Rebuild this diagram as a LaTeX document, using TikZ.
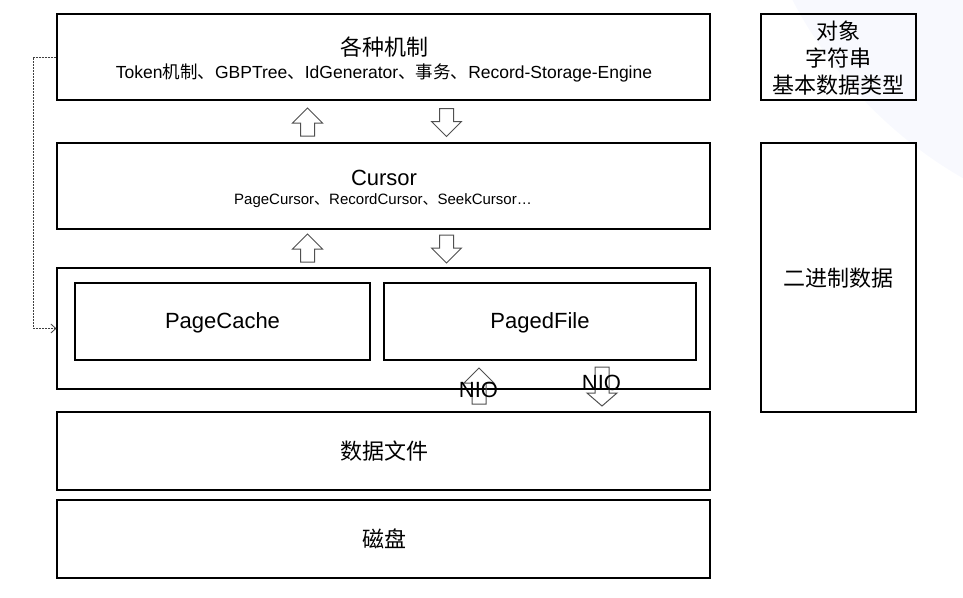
\documentclass[tikz,border=0pt]{standalone}
\usepackage{fontspec}
\setmainfont{Liberation Sans}
\newfontfamily\cjk{Noto Sans CJK SC}
\usetikzlibrary{arrows.meta}
\definecolor{arrgray}{HTML}{505050}
\definecolor{bgfaint}{HTML}{F8F9FE}
\tikzset{
  box/.style={draw=black, line width=1.1pt, minimum width=653pt, inner sep=0pt},
  rbox/.style={draw=black, line width=1.1pt, minimum width=155pt, inner sep=0pt},
  lbl/.style={inner sep=0pt, text=black, font=\fontsize{22}{27}\selectfont},
  sub/.style={inner sep=0pt, text=black, font=\fontsize{17.5}{20}\selectfont},
  subs/.style={inner sep=0pt, text=black, font=\fontsize{15}{18}\selectfont},
  blockarrow/.style={draw=arrgray, line width=1pt, fill=white, line join=miter},
  uparrow/.pic={\draw[blockarrow] (0,-14) -- (15,1) -- (7,1) -- (7,14) -- (-7,14) -- (-7,1) -- (-15,1) -- cycle;},
  downarrow/.pic={\draw[blockarrow] (0,14) -- (15,-1) -- (7,-1) -- (7,-14) -- (-7,-14) -- (-7,-1) -- (-15,-1) -- cycle;}
}
\begin{document}
\begin{tikzpicture}[x=1pt,y=-1pt]
\useasboundingbox (0,0) rectangle (963,597);
\begin{scope}
\clip (0,0) rectangle (963,597);
\fill[bgfaint] (1180,-200) circle (436);
\end{scope}
% main column boxes
\node[box, minimum height=86pt] (mech) at (383.5,57) {};
\node[box, minimum height=86pt] (cursor) at (383.5,186) {};
\node[box, minimum height=121pt] (cont) at (383.5,328.5) {};
\node[draw=black, line width=1.1pt, minimum width=295pt, minimum height=77pt] (pc) at (222.5,321.5) {};
\node[draw=black, line width=1.1pt, minimum width=312pt, minimum height=77pt] (pf) at (540,321.5) {};
\node[box, minimum height=78pt] (file) at (383.5,451) {};
\node[box, minimum height=78pt] (disk) at (383.5,539) {};
% right column
\node[rbox, minimum height=86pt] (obj) at (838.5,57) {};
\node[rbox, minimum height=269pt] (bin) at (838.5,277.5) {};
% texts
\node[lbl] (mechT) at (384,47) {\cjk 各种机制};
\node[sub] (mechS) at (384,73) {Token{\cjk 机制、}GBPTree{\cjk 、}IdGenerator{\cjk 、事务、}Record-Storage-Engine};
\node[lbl] (curT) at (384,178) {Cursor};
\node[subs] (curS) at (383,200.5) {PageCursor{\cjk 、}RecordCursor{\cjk 、}SeekCursor…};
\node[lbl] (pcT) at (222.5,322.5) {PageCache};
\node[lbl] (pfT) at (540,322.5) {PagedFile};
\node[lbl] (fileT) at (384,451) {\cjk 数据文件};
\node[lbl] (diskT) at (384,539) {\cjk 磁盘};
\node[lbl, align=center] (objT) at (838.5,58) {\cjk 对象\\\cjk 字符串\\\cjk 基本数据类型};
\node[lbl] (binT) at (838.5,278) {\cjk 二进制数据};
% block arrows between layers
\pic at (307.5,122) {uparrow};
\pic at (446.5,122.5) {downarrow};
\pic at (307.5,248) {uparrow};
\pic at (446.5,249) {downarrow};
% NIO arrows
\draw[blockarrow, fill=none] (479,368) -- (494,383) -- (486,383) -- (486,404) -- (472,404) -- (472,383) -- (464,383) -- cycle;
\draw[blockarrow, fill=none] (602,406) -- (617,393) -- (609,393) -- (609,367) -- (595,367) -- (595,393) -- (587,393) -- cycle;
\node[lbl] (nio1) at (478.5,390) {NIO};
\node[lbl] (nio2) at (601.5,383) {NIO};
% dashed connector
\draw[draw=black!75, line width=0.8pt, dash pattern=on 2pt off 1pt, -{Straight Barb[length=5pt,width=9pt]}] (mech.west) -- ++(-23,0) |- (cont.west);
\end{tikzpicture}
\end{document}
